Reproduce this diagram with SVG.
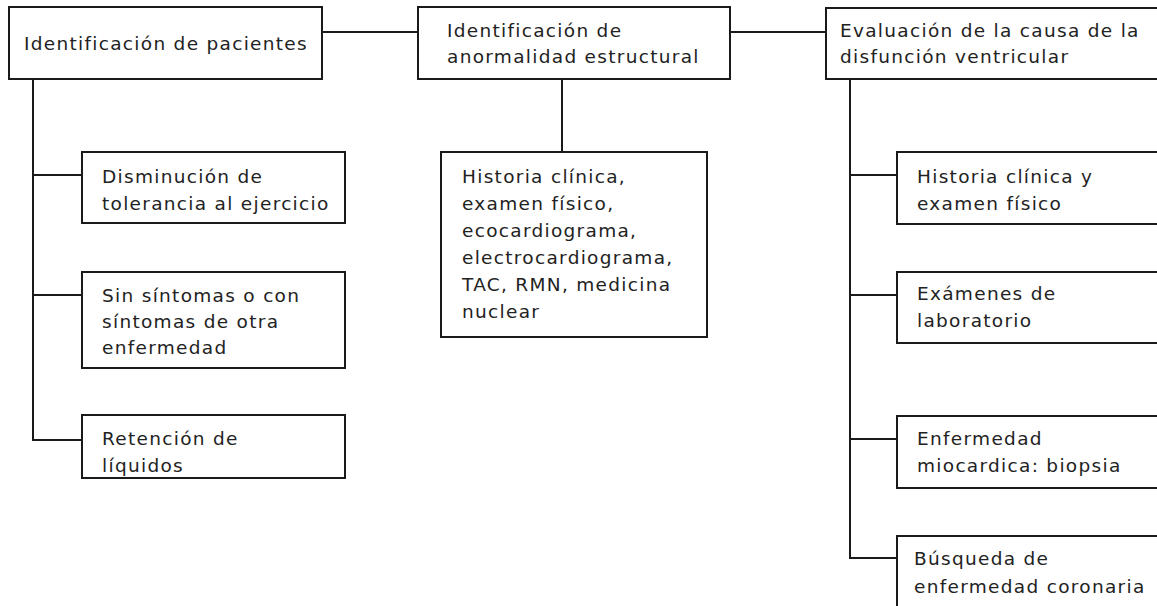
<svg xmlns="http://www.w3.org/2000/svg" width="1157" height="606" viewBox="0 0 1157 606">
<style>
.box{fill:#fff;stroke:#1a1a1a;stroke-width:2}
.ln{fill:none;stroke:#1a1a1a;stroke-width:2}
text{font-family:"DejaVu Sans","Liberation Sans",sans-serif;font-size:18.5px;letter-spacing:1.3px;fill:#222}
</style>
<rect width="1157" height="606" fill="#fff"/>
<g id="connectors">
<line class="ln" x1="322" y1="32" x2="418" y2="32"/>
<line class="ln" x1="730" y1="32" x2="826" y2="32"/>
<line class="ln" x1="562" y1="79" x2="562" y2="152"/>
<polyline class="ln" points="33,79 33,440 82,440"/>
<line class="ln" x1="33" y1="175" x2="82" y2="175"/>
<line class="ln" x1="33" y1="295" x2="82" y2="295"/>
<polyline class="ln" points="850,78 850,558 897,558"/>
<line class="ln" x1="850" y1="175" x2="897" y2="175"/>
<line class="ln" x1="850" y1="295" x2="897" y2="295"/>
<line class="ln" x1="850" y1="439" x2="897" y2="439"/>
</g>
<g id="n1"><rect class="box" x="9" y="7" width="313" height="72"/><text x="24" y="50">Identificación de pacientes</text></g>
<g id="n2"><rect class="box" x="418" y="7" width="312" height="72"/><text x="447" y="37">Identificación de</text><text x="447" y="63">anormalidad estructural</text></g>
<g id="n3"><rect class="box" x="826" y="8" width="340" height="71"/><text x="840" y="37">Evaluación de la causa de la</text><text x="840" y="63">disfunción ventricular</text></g>
<g id="n4"><rect class="box" x="82" y="152" width="263" height="71"/><text x="102" y="183">Disminución de</text><text x="102" y="210">tolerancia al ejercicio</text></g>
<g id="n5"><rect class="box" x="82" y="272" width="263" height="96"/><text x="102" y="302">Sin síntomas o con</text><text x="102" y="328">síntomas de otra</text><text x="102" y="354">enfermedad</text></g>
<g id="n6"><rect class="box" x="82" y="415" width="263" height="63"/><text x="102" y="445">Retención de</text><text x="102" y="472">líquidos</text></g>
<g id="n7"><rect class="box" x="441" y="152" width="266" height="185"/>
<text x="462" y="183">Historia clínica,</text><text x="462" y="210">examen físico,</text><text x="462" y="237">ecocardiograma,</text><text x="462" y="264">electrocardiograma,</text><text x="462" y="291">TAC, RMN, medicina</text><text x="462" y="318">nuclear</text></g>
<g id="n8"><rect class="box" x="897" y="152" width="270" height="72"/><text x="917" y="183">Historia clínica y</text><text x="917" y="210">examen físico</text></g>
<g id="n9"><rect class="box" x="897" y="272" width="270" height="71"/><text x="917" y="300">Exámenes de</text><text x="917" y="327">laboratorio</text></g>
<g id="n10"><rect class="box" x="897" y="416" width="270" height="72"/><text x="917" y="445">Enfermedad</text><text x="917" y="472">miocardica: biopsia</text></g>
<g id="n11"><rect class="box" x="897" y="536" width="270" height="80"/><text x="914" y="565">Búsqueda de</text><text x="914" y="593">enfermedad coronaria</text></g>
</svg>
